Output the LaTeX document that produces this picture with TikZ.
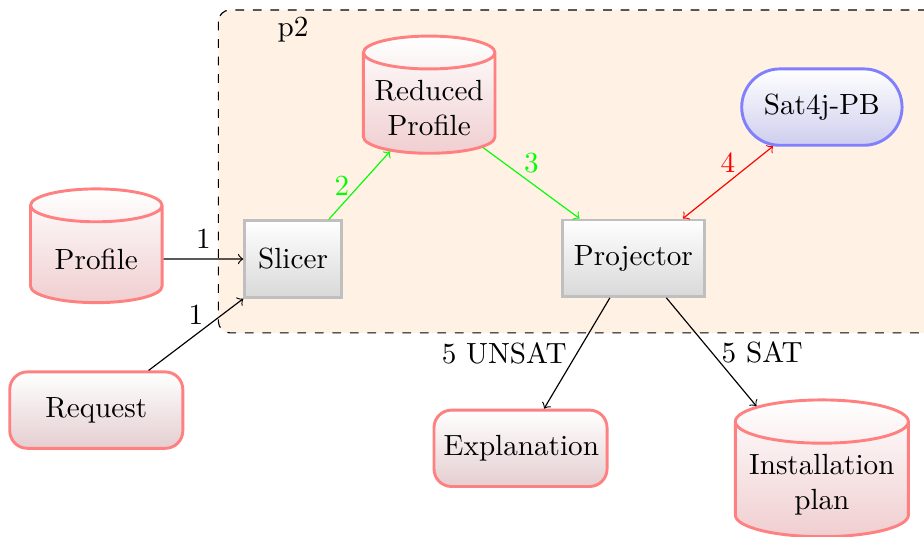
\documentclass[tikz,border=0pt]{standalone}
\usetikzlibrary{arrows,shapes,positioning}

\definecolor{storepink}{RGB}{240,206,208}
\definecolor{datumpink}{RGB}{228,206,208}
\definecolor{solverblue}{RGB}{206,206,238}

\tikzset{
  store/.style = {cylinder, shape border rotate=90, aspect=0.25, draw=red!50,
    line width=1pt, top color=white, bottom color=storepink,
    text width=1.35cm, align=center},
  tool/.style = {rectangle, draw=black!25, line width=1pt, top color=white,
    bottom color=black!15, minimum height=0.92cm, inner xsep=4.6pt},
  datum/.style = {rectangle, rounded corners=6pt, draw=red!50, line width=1pt,
    top color=white, bottom color=datumpink, text width=1.85cm, align=center,
    minimum height=0.92cm},
  solver/.style = {rounded rectangle, draw=blue!50, line width=1pt,
    top color=white, bottom color=solverblue, minimum height=0.92cm,
    inner xsep=6.8pt}
}

\begin{document}
\begin{tikzpicture}
  \useasboundingbox (0,0) rectangle (11.13,-6.46);
  % process box
  \draw [dashed, rounded corners, fill=orange!10] (2.63,-0.12) rectangle (11.5,-4.01);
  \node (p2) at (3.53,-0.36) {p2};

  \node [store, minimum height=1.37cm] (Profile) at (1.16,-3.12) {Profile};
  \node [datum] (Request) at (1.16,-4.94) {Request};
  \node [tool] (Slicer) at (3.53,-3.12) {Slicer};
  \node [store] (Reduced) at (5.17,-1.30) {Reduced Profile};
  \node [tool, inner xsep=4pt] (Projector) at (7.63,-3.11) {Projector};
  \node [solver] (Sat4j) at (9.90,-1.29) {Sat4j-PB};
  \node [datum] (Explanation) at (6.27,-5.40) {Explanation};
  \node [store, text width=1.85cm] (Install) at (9.90,-5.84) {Installation plan};

  \draw [->] (Profile) -- node [above] {1} (Slicer);
  \draw [->] (Request) -- node [above] {1} (Slicer.south west);
  \draw [->, green] (Slicer) -- node [left] {2} (Reduced);
  \draw [->, green] (Reduced) -- node [above] {3} (Projector);
  \draw [<->, red] (Projector) -- node [above] {4} (Sat4j);
  \draw [->] (Projector) -- node [left] {5 UNSAT} (Explanation);
  \draw [->] (Projector) -- node [right] {5 SAT} (Install);
\end{tikzpicture}
\end{document}
